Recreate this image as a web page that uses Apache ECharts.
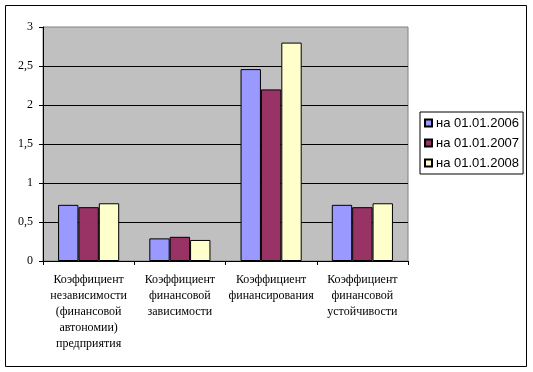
<!DOCTYPE html>
<html><head><meta charset="utf-8">
<script src="https://cdn.jsdelivr.net/npm/echarts@6/dist/echarts.min.js"></script>
<style>html,body{margin:0;padding:0;background:#fff}#c{width:533px;height:372px}</style>
</head><body><div id="c"></div>
<script>
var categories = ['Коэффициент независимости (финансовой автономии) предприятия','Коэффициент финансовой зависимости','Коэффициент финансирования','Коэффициент финансовой устойчивости'];
var seriesNames = ['на 01.01.2006','на 01.01.2007','на 01.01.2008'];
var s2006 = [0.72, 0.29, 2.46, 0.72];
var s2007 = [0.69, 0.31, 2.2, 0.69];
var s2008 = [0.74, 0.27, 2.8, 0.74];
var colors = ['#9999FF','#993366','#FFFFCC'];
var chart = echarts.init(document.getElementById('c'), null, {renderer:'canvas'});
var data = [s2006, s2007, s2008];
var serif = '"Liberation Serif", "Times New Roman", serif';
chart.setOption({
  animation:false,
  backgroundColor:'#fff',
  graphic:[{type:'rect',shape:{x:5.5,y:5.5,width:521,height:361},style:{fill:'none',stroke:'#000',lineWidth:1},z:100}],
  grid:{left:43,top:27,right:125,bottom:111,show:true,backgroundColor:'#C0C0C0',borderColor:'#808080',borderWidth:1},
  legend:{orient:'vertical',left:420,top:112,padding:[4,4,4,4],itemGap:6,itemWidth:7,itemHeight:7,icon:'rect',
    borderColor:'#000',borderWidth:1,backgroundColor:'#fff',
    textStyle:{fontFamily:'"Liberation Sans", Arial, sans-serif',fontSize:13,color:'#000',lineHeight:14,padding:[0,0,0,-1]},
    data:seriesNames},
  xAxis:{type:'category',data:categories,
    axisLine:{lineStyle:{color:'#000',width:1}},
    axisTick:{show:true,length:4,lineStyle:{color:'#000'}},
    axisLabel:{interval:0,margin:11,fontFamily:serif,fontSize:12,color:'#000',lineHeight:16,
      formatter:function(v){return v.split(' ').join('\n');}}},
  yAxis:{type:'value',min:0,max:3,interval:0.5,
    axisLine:{show:true,lineStyle:{color:'#000',width:1}},
    axisTick:{show:true,length:4,lineStyle:{color:'#000'}},
    splitLine:{show:true,showMaxLine:false,lineStyle:{color:'#000',width:1}},
    axisLabel:{margin:10,fontFamily:serif,fontSize:12,color:'#000',
      formatter:function(v){return String(v).replace('.',',');}}},
  series:seriesNames.map(function(n,i){return {name:n,type:'bar',data:data[i],barGap:'0%',barCategoryGap:'33%',
    itemStyle:{color:colors[i],borderColor:'#000',borderWidth:1}};})
});
</script></body></html>
